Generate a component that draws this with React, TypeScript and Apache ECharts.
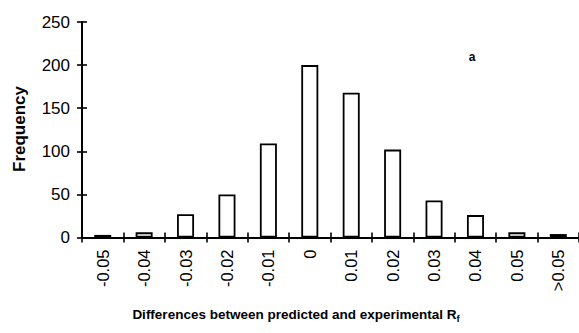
import React, { useEffect, useRef } from "react";
import * as echarts from "echarts";

const categories = ["-0.05", "-0.04", "-0.03", "-0.02", "-0.01", "0", "0.01", "0.02", "0.03", "0.04", "0.05", ">0.05"];
const frequencies = [3, 6, 27, 50, 109, 200, 168, 102, 43, 26, 6, 4];
const yMin = 0;
const yMax = 250;
const yStep = 50;

const FONT = "'Liberation Sans', Arial, sans-serif";

export default function App() {
  const ref = useRef<HTMLDivElement>(null);
  useEffect(() => {
    if (!ref.current) return;
    const chart = echarts.init(ref.current, undefined, { renderer: "svg" });
    const axisLine = { show: true, lineStyle: { color: "#000", width: 1.8 } };
    const xBase = {
      type: "category" as const,
      data: categories,
      boundaryGap: true,
      axisLine,
      splitLine: { show: false },
    };
    const yBase = {
      type: "value" as const,
      min: yMin,
      max: yMax,
      interval: yStep,
      axisLine,
      splitLine: { show: false },
    };
    chart.setOption({
      animation: false,
      backgroundColor: "#fff",
      grid: { left: 82, top: 22, width: 498, height: 215.5, containLabel: false },
      xAxis: [
        {
          ...xBase,
          axisTick: { show: true, inside: false, length: 5, lineStyle: { color: "#000", width: 1.6 } },
          axisLabel: {
            interval: 0,
            rotate: 90,
            margin: 12,
            color: "#000",
            fontSize: 16.5,
            fontFamily: FONT,
          },
        },
        {
          ...xBase,
          position: "bottom",
          axisTick: { show: true, inside: true, length: 5, lineStyle: { color: "#000", width: 1.6 } },
          axisLabel: { show: false },
        },
      ],
      yAxis: [
        {
          ...yBase,
          position: "left",
          axisTick: { show: true, inside: false, length: 5, lineStyle: { color: "#000", width: 1.6 } },
          axisLabel: { margin: 12, color: "#000", fontSize: 17, fontFamily: FONT },
        },
        {
          ...yBase,
          position: "left",
          axisTick: { show: true, inside: true, length: 5, lineStyle: { color: "#000", width: 1.6 } },
          axisLabel: { show: false },
        },
      ],
      series: [
        {
          type: "bar",
          xAxisIndex: 0,
          yAxisIndex: 0,
          data: frequencies,
          barWidth: 17,
          itemStyle: { color: "#fff", borderColor: "#000", borderWidth: 1.8 },
        },
      ],
      graphic: [
        {
          type: "text",
          x: 19,
          y: 129,
          rotation: Math.PI / 2,
          style: {
            text: "Frequency",
            fill: "#000",
            font: `bold 17px ${FONT}`,
            align: "center",
            verticalAlign: "middle",
          },
        },
        {
          type: "text",
          x: 472,
          y: 57,
          style: {
            text: "a",
            fill: "#000",
            font: `bold 12px ${FONT}`,
            align: "center",
            verticalAlign: "middle",
          },
        },
        {
          type: "text",
          x: 296,
          y: 314,
          style: {
            text: "{t|Differences between predicted and experimental R}{s|f}",
            align: "center",
            verticalAlign: "middle",
            rich: {
              t: { fontSize: 13.5, fontWeight: "bold", fontFamily: FONT, fill: "#000", color: "#000", lineHeight: 18 },
              s: { fontSize: 9.5, fontWeight: "bold", fontFamily: FONT, fill: "#000", color: "#000", lineHeight: 9, verticalAlign: "bottom" },
            },
          },
        },
      ],
    });
    return () => chart.dispose();
  }, []);
  return (
    <div
      ref={ref}
      style={{ position: "fixed", left: 0, top: 0, width: 579, height: 333, background: "#fff" }}
    />
  );
}
